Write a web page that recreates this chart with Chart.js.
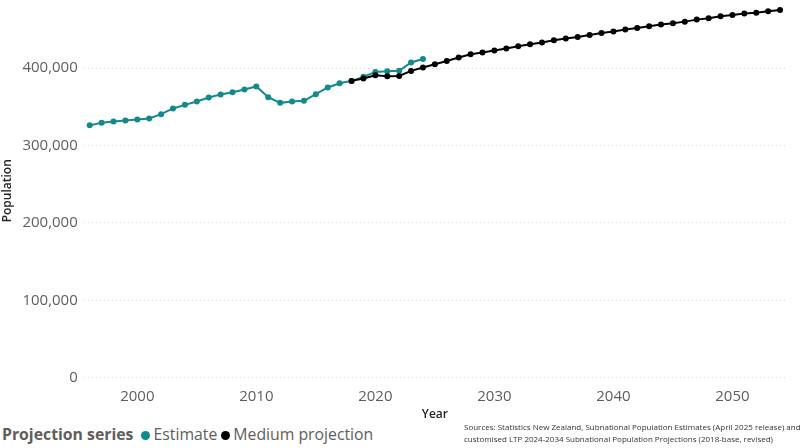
<!DOCTYPE html>
<html>
<head>
<meta charset="utf-8">
<script src="https://cdn.jsdelivr.net/npm/chart.js@4/dist/chart.umd.min.js"></script>
<style>
  html, body { margin: 0; padding: 0; background: #fff; }
  body { width: 800px; height: 448px; position: relative; overflow: hidden; font-family: "Open Sans", sans-serif; }
  #wrap { position: absolute; left: 0; top: 0; width: 800px; height: 422px; }
  .legend { position: absolute; left: 2px; top: 423px; font-size: 15.8px; color: #605e5c; white-space: nowrap; }
  .legend b { color: #605e5c; margin-right: 4px; }
  .legend .dot { display: inline-block; width: 9px; height: 9px; border-radius: 50%; margin: 0 3px 1px 4px; vertical-align: middle; }
  .source { position: absolute; left: 464px; top: 421px; font-size: 8px; line-height: 12px; color: #333; white-space: nowrap; }
</style>
</head>
<body>
<div id="wrap"><canvas id="chart"></canvas></div>
<div class="legend"><b>Projection series</b><span class="dot" style="background:#12898a"></span>Estimate<span class="dot" style="background:#000"></span>Medium projection</div>
<div class="source">Sources: Statistics New Zealand, Subnational Population Estimates (April 2025 release) and<br>customised LTP 2024-2034 Subnational Population Projections (2018-base, revised)</div>
<script>
// Estimate series (1996-2024)
const estimateYears = [1996,1997,1998,1999,2000,2001,2002,2003,2004,2005,2006,2007,2008,2009,2010,
  2011,2012,2013,2014,2015,2016,2017,2018,2019,2020,2021,2022,2023,2024];
const estimateValues = [326100,329400,331200,332500,333800,335100,340600,348000,352600,357000,362200,366000,369000,372500,376400,
  362600,355200,357000,357800,366400,375100,380600,383600,388800,395200,396100,396600,407400,412000];

// Medium projection (2018-2054)
const projectionYears = [2018,2019,2020,2021,2022,2023,2024,2025,2026,2027,2028,2029,2030,2031,2032,2033,2034,2035,
  2036,2037,2038,2039,2040,2041,2042,2043,2044,2045,2046,2047,2048,2049,2050,2051,2052,2053,2054];
const projectionValues = [383600,386700,391000,389700,389900,396500,400900,405000,409400,413800,418100,420200,422800,425400,428400,431000,433200,436100,
  438300,440400,443000,445500,447400,450000,452000,454200,456400,458200,460200,462800,464500,467100,468800,470600,471800,473500,475200];

const xTicks = [2000, 2010, 2020, 2030, 2040, 2050];
const yTicks = [0, 100000, 200000, 300000, 400000];

const toPoints = (xs, ys) => xs.map((x, i) => ({ x, y: ys[i] }));

new Chart(document.getElementById("chart"), {
  type: "line",
  data: {
    datasets: [
      {
        label: "Medium projection",
        data: toPoints(projectionYears, projectionValues),
        borderColor: "#000",
        backgroundColor: "#000",
        borderWidth: 2,
        pointRadius: 3,
        pointBorderWidth: 0,
        clip: false,
        order: 1
      },
      {
        label: "Estimate",
        data: toPoints(estimateYears, estimateValues),
        borderColor: "#12898a",
        backgroundColor: "#12898a",
        borderWidth: 2,
        pointRadius: 3,
        pointBorderWidth: 0,
        clip: false,
        order: 2
      }
    ]
  },
  options: {
    responsive: true,
    maintainAspectRatio: false,
    animation: false,
    layout: { padding: { left: 0, right: 14, top: 0, bottom: 0 } },
    plugins: { legend: { display: false }, tooltip: { enabled: false } },
    scales: {
      x: {
        type: "linear",
        min: 1995.5,
        max: 2054.5,
        afterBuildTicks: axis => { axis.ticks = xTicks.map(v => ({ value: v })); },
        grid: { display: false },
        border: { display: false },
        ticks: { color: "#605e5c", font: { family: "Open Sans", size: 15 }, padding: 2, callback: v => String(v) },
        title: { display: true, text: "Year", color: "#252423", font: { family: "Open Sans", size: 12, weight: "600" }, padding: { top: 0, bottom: 0 } }
      },
      y: {
        min: 0,
        max: 483000,
        afterBuildTicks: axis => { axis.ticks = yTicks.map(v => ({ value: v })); },
        afterFit: axis => { axis.paddingTop = 0; },
        grid: { color: "#d8d8d8", drawTicks: false },
        border: { display: false, dash: [1, 3] },
        ticks: { color: "#605e5c", font: { family: "Open Sans", size: 15 }, padding: 6, callback: v => v.toLocaleString("en-US") },
        title: { display: true, text: "Population", color: "#252423", font: { family: "Open Sans", size: 12, weight: "600" }, padding: { top: 0, bottom: 2 } }
      }
    }
  }
});
</script>
</body>
</html>
